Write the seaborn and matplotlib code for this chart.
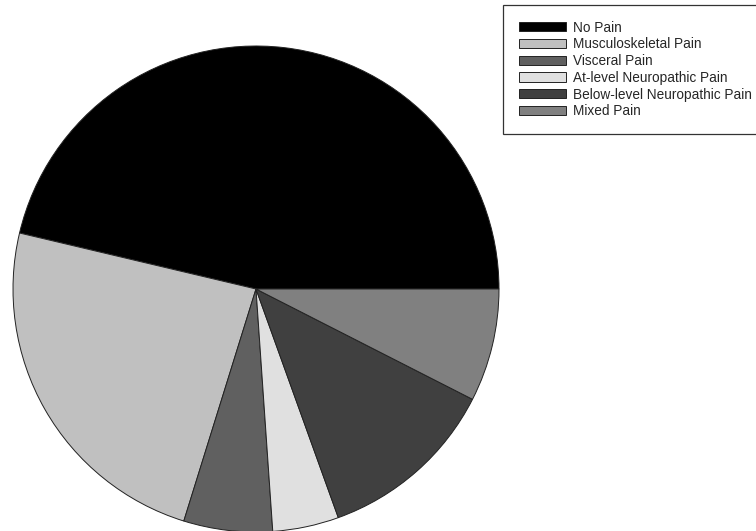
import matplotlib
matplotlib.use("Agg")
import matplotlib.pyplot as plt
import seaborn as sns

# Pain categories and their share (%)
categories = ["No Pain", "Musculoskeletal Pain", "Visceral Pain",
              "At-level Neuropathic Pain", "Below-level Neuropathic Pain", "Mixed Pain"]
shares = [46.3, 23.9, 5.9, 4.4, 12.0, 7.5]
greys = ["#000000", "#c0c0c0", "#606060", "#e0e0e0", "#404040", "#808080"]

sns.set_style("white")
plt.rcParams["font.family"] = ["Liberation Sans", "DejaVu Sans"]

fig = plt.figure(figsize=(7.56, 5.31), dpi=100)

# pie centred at ~(256, 289) px with radius ~243 px
cx, cy, r = 256, 289, 243
W, H = 756, 531
ax = fig.add_axes([(cx - r) / W, (H - cy - r) / H, 2 * r / W, 2 * r / H])
wedges, _ = ax.pie(shares, colors=greys, startangle=0, counterclock=True,
                   wedgeprops=dict(edgecolor="#222222", linewidth=0.7))
ax.set_xlim(-1, 1)
ax.set_ylim(-1, 1)
ax.set_aspect("equal")
ax.axis("off")

leg = fig.legend(wedges, categories, loc="upper left",
                 bbox_to_anchor=(503 / W, 1 - 5 / H), borderaxespad=0,
                 fontsize=9.8, handlelength=3.5, handleheight=0.66,
                 handletextpad=0.5, labelspacing=0.2, borderpad=1.15,
                 fancybox=False, frameon=True)
leg.get_frame().set_edgecolor("black")
leg.get_frame().set_linewidth(0.9)

fig.savefig("out.png", dpi=100)
